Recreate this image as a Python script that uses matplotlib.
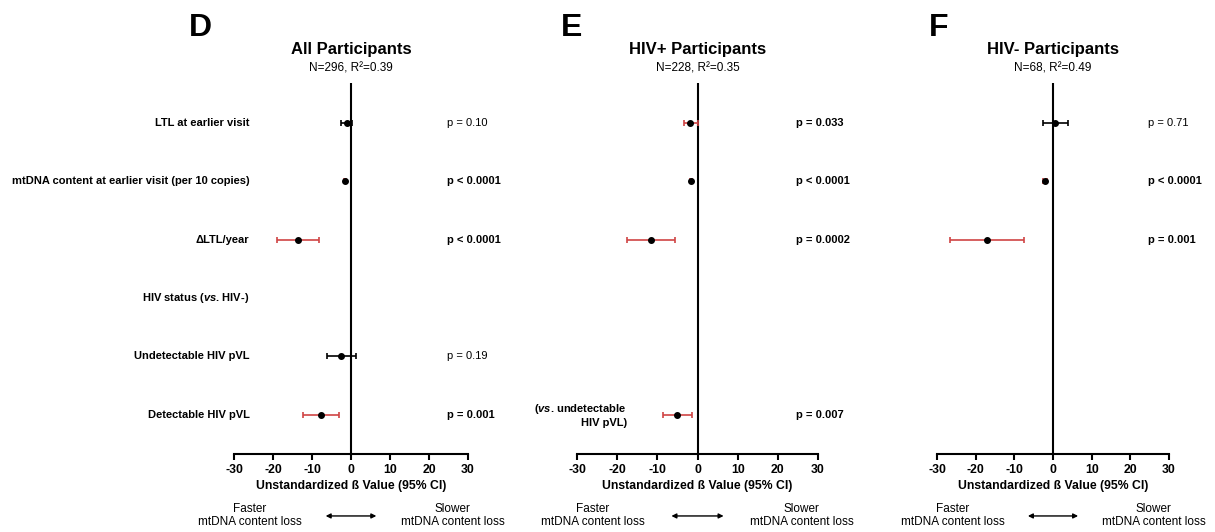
import matplotlib.pyplot as plt
import matplotlib.transforms as mtransforms
import numpy as np

plt.rcParams["font.family"] = "Liberation Sans"
plt.rcParams["axes.unicode_minus"] = False
plt.rcParams["mathtext.fontset"] = "custom"
plt.rcParams["mathtext.rm"] = "Liberation Sans:bold"
plt.rcParams["mathtext.it"] = "Liberation Sans:italic:bold"

# Row labels (top to bottom)
row_labels = [
    "LTL at earlier visit",
    "mtDNA content at earlier visit (per 10 copies)",
    "\u0394LTL/year",
    r"HIV status ($\mathit{vs}$. HIV-)",
    "Undetectable HIV pVL",
    "Detectable HIV pVL",
]

panel_letters = ["D", "E", "F"]
titles = ["All Participants", "HIV+ Participants", "HIV- Participants"]
subtitles = ["N=296, R\u00b2=0.39", "N=228, R\u00b2=0.35", "N=68, R\u00b2=0.49"]

# Estimates and 95% CI per panel (None = not in model)
beta_d = [-1.1, -1.5, -13.7, None, -2.5, -7.7]
lo_d = [-2.6, -1.8, -18.9, None, -6.1, -12.2]
hi_d = [0.2, -1.2, -8.2, None, 1.3, -3.0]
p_d = ["p = 0.10", "p < 0.0001", "p < 0.0001", "", "p = 0.19", "p = 0.001"]

beta_e = [-1.8, -1.6, -11.6, None, None, -5.0]
lo_e = [-3.3, -1.9, -17.5, None, None, -8.7]
hi_e = [0.1, -1.3, -5.6, None, None, -1.4]
p_e = ["p = 0.033", "p < 0.0001", "p = 0.0002", "", "", "p = 0.007"]

beta_f = [0.4, -2.0, -17.0, None, None, None]
lo_f = [-2.6, -2.6, -26.6, None, None, None]
hi_f = [4.0, -1.5, -7.6, None, None, None]
p_f = ["p = 0.71", "p < 0.0001", "p = 0.001", "", "", ""]

# significant results are drawn red with bold p-values
sig_d = [False, True, True, False, False, True]
sig_e = [True, True, True, False, False, True]
sig_f = [False, True, True, False, False, False]

panels = [
    (beta_d, lo_d, hi_d, p_d, sig_d),
    (beta_e, lo_e, hi_e, p_e, sig_e),
    (beta_f, lo_f, hi_f, p_f, sig_f),
]

W, H = 1215, 532
fig = plt.figure(figsize=(W / 100, H / 100), dpi=100)

# axes boxes in pixels: left, right
boxes = [(234, 468), (577, 818), (937, 1169)]
ax_top, ax_bot = 83, 454
letter_x = [200, 572, 939]

red = "#cf4444"
ypos = np.arange(len(row_labels))

for i, ((beta, lo, hi, pv, sig), (l, r)) in enumerate(zip(panels, boxes)):
    ax = fig.add_axes([l / W, 1 - ax_bot / H, (r - l) / W, (ax_bot - ax_top) / H])
    ax.set_xlim(-30, 30)
    ax.set_ylim(5.67, -0.68)
    for s in ["top", "right", "left"]:
        ax.spines[s].set_visible(False)
    ax.spines["bottom"].set_linewidth(1.5)
    ax.set_yticks([])
    ax.set_xticks(np.arange(-30, 31, 10))
    ax.tick_params(axis="x", direction="out", length=4, width=1.5, pad=3)
    for t in ax.get_xticklabels():
        t.set_fontweight("bold")
        t.set_fontsize(8.8)
    ax.set_xlabel("Unstandardized \u00df Value (95% CI)", fontsize=8.8,
                  fontweight="bold", labelpad=3)
    ax.axvline(0, color="black", lw=1.5)

    for k in range(len(row_labels)):
        if beta[k] is not None:
            c = red if sig[k] else "black"
            ax.errorbar(beta[k], ypos[k], xerr=[[beta[k] - lo[k]], [hi[k] - beta[k]]],
                        fmt="none", ecolor=c, elinewidth=1.2, capsize=2.5, capthick=1.2)
            ax.plot(beta[k], ypos[k], "o", color="black", ms=4, zorder=5)
        if pv[k]:
            ax.text(24.5, ypos[k], pv[k], ha="left", va="center", fontsize=8,
                    fontweight="bold" if sig[k] else "normal")

    # row labels only on the first panel
    if i == 0:
        for k, lab in enumerate(row_labels):
            ax.text(-26, ypos[k], lab, ha="right", va="center", fontsize=8,
                    fontweight="bold")
    if i == 1:
        ax.text(-17.6, ypos[5], "($\\mathit{vs}$. undetectable\nHIV pVL)", ha="right",
                va="center", fontsize=8, fontweight="bold", multialignment="right",
                linespacing=1.2)

    ax.text(0.5, 1.089, titles[i], transform=ax.transAxes, ha="center", va="center",
            fontsize=12, fontweight="bold")
    ax.text(0.5, 1.038, subtitles[i], transform=ax.transAxes, ha="center",
            va="center", fontsize=8.5)

    # direction hint under the axis
    trans = mtransforms.blended_transform_factory(ax.transData, ax.transAxes)
    ax.annotate("", xy=(-6.5, -0.167), xytext=(6.5, -0.167), xycoords=trans,
                textcoords=trans,
                arrowprops=dict(arrowstyle="<|-|>", color="black", lw=1,
                                mutation_scale=7, shrinkA=0, shrinkB=0),
                annotation_clip=False)
    ax.text(-26, -0.166, "Faster\nmtDNA content loss", transform=trans, ha="center",
            va="center", fontsize=8.5, linespacing=1.05, clip_on=False)
    ax.text(26, -0.166, "Slower\nmtDNA content loss", transform=trans, ha="center",
            va="center", fontsize=8.5, linespacing=1.05, clip_on=False)

    fig.text(letter_x[i] / W, 1 - 28 / H, panel_letters[i], ha="center", va="center",
             fontsize=23, fontweight="bold")

fig.savefig("out.png", dpi=100)
